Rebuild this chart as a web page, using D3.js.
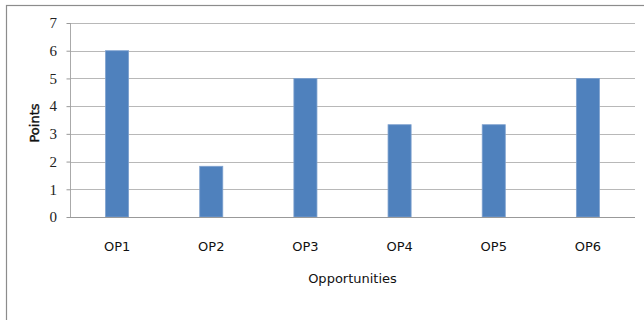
<!DOCTYPE html>
<meta charset="utf-8">
<head>
  <title>Opportunities</title>
</head>

<style>
body {
  margin: 0;
  background: #fff;
}
.xlab {
  font-family: "DejaVu Sans", sans-serif;
  font-size: 13px;
  fill: #111;
}
.ylab {
  font-family: "Liberation Serif", "DejaVu Serif", serif;
  font-size: 15px;
  fill: #222;
}
</style>

<body>
<svg id="chart" width="644" height="320"></svg>

<script src="https://cdnjs.cloudflare.com/ajax/libs/d3/7.8.5/d3.min.js"></script>
<script>
var categories = ["OP1", "OP2", "OP3", "OP4", "OP5", "OP6"];
var points = [6, 1.83, 5, 3.33, 3.33, 5];
var yTicks = [0, 1, 2, 3, 4, 5, 6, 7];

var svg = d3.select("#chart");

// outer frame of the chart
svg.append("rect")
    .attr("x", 6.5)
    .attr("y", 5.5)
    .attr("width", 660)
    .attr("height", 330)
    .attr("fill", "#fff")
    .attr("stroke", "#8c8c8c")
    .attr("stroke-width", 1.2);

var margin = {left: 70, top: 23, right: 635, bottom: 217};

var x = d3.scaleBand()
    .domain(categories)
    .range([margin.left, margin.right])
    .paddingInner(0.755)
    .paddingOuter(0.3775);

var y = d3.scaleLinear()
    .domain([0, 7])
    .range([margin.bottom, margin.top]);

// gridlines
svg.append("g")
  .selectAll("line")
  .data(yTicks.slice(1))
  .join("line")
    .attr("x1", margin.left)
    .attr("x2", margin.right)
    .attr("y1", function(d) { return Math.round(y(d)) + 0.5; })
    .attr("y2", function(d) { return Math.round(y(d)) + 0.5; })
    .attr("stroke", "#b8b8b8")
    .attr("stroke-width", 1);

// bars
svg.append("g")
  .selectAll("rect")
  .data(points)
  .join("rect")
    .attr("x", function(d, i) { return x(categories[i]); })
    .attr("y", function(d) { return y(d); })
    .attr("width", x.bandwidth())
    .attr("height", function(d) { return y(0) - y(d); })
    .attr("fill", "#4f81bd")
    .attr("stroke", "#7ea1cf")
    .attr("stroke-width", 0.8);

// y axis, labels drawn separately so they keep the serif face
var yAxis = d3.axisLeft(y)
    .tickValues(yTicks)
    .tickSize(4)
    .tickFormat("");

var yg = svg.append("g")
    .attr("transform", "translate(" + (margin.left + 0.5) + ",0)")
    .call(yAxis);
yg.selectAll("line").attr("stroke", "#999");
yg.select(".domain").attr("stroke", "#aaa").attr("d", "M0," + margin.top + "V" + margin.bottom);

svg.append("g")
  .selectAll("text")
  .data(yTicks)
  .join("text")
    .attr("class", "ylab")
    .attr("x", 57)
    .attr("y", function(d) { return y(d); })
    .attr("dy", "0.35em")
    .attr("text-anchor", "end")
    .text(function(d) { return d; });

// x baseline
svg.append("line")
    .attr("x1", margin.left)
    .attr("x2", margin.right)
    .attr("y1", y(0) + 0.5)
    .attr("y2", y(0) + 0.5)
    .attr("stroke", "#999");

// category labels
svg.append("g")
  .selectAll("text")
  .data(categories)
  .join("text")
    .attr("class", "xlab")
    .attr("x", function(d) { return x(d) + x.bandwidth() / 2; })
    .attr("y", 251)
    .attr("text-anchor", "middle")
    .text(function(d) { return d; });

// axis titles
svg.append("text")
    .attr("class", "xlab")
    .attr("x", (margin.left + margin.right) / 2)
    .attr("y", 283)
    .attr("text-anchor", "middle")
    .text("Opportunities");

svg.append("text")
    .attr("class", "xlab")
    .attr("transform", "translate(39,123) rotate(-90)")
    .attr("text-anchor", "middle")
    .attr("stroke", "#111")
    .attr("stroke-width", 0.4)
    .text("Points");
</script>
</body>
</html>
